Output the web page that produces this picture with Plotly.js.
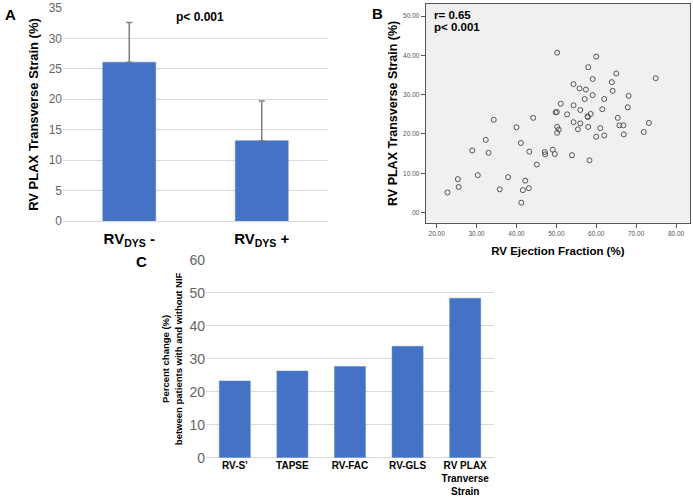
<!DOCTYPE html>
<html>
<head>
<meta charset="utf-8">
<script src="https://cdn.plot.ly/plotly-3.0.1.min.js"></script>
<style>html,body{margin:0;padding:0;background:#fff;}#chart{width:693px;height:497px;}</style>
</head>
<body>
<div id="chart"></div>
<script>
// Panel A data
const groupsA = ['RV<sub>DYS</sub> -', 'RV<sub>DYS</sub> +'];
const meanStrainA = [26.1, 13.2];
const sdStrainA = [6.5, 6.5];
const yTicksA = [0, 5, 10, 15, 20, 25, 30, 35];

// Panel B data (RV ejection fraction vs RV PLAX transverse strain)
const efB = [50.2, 60.0, 58.0, 65.0, 74.9, 59.1, 63.9, 54.3, 55.8, 57.4, 64.1, 68.1, 59.1, 57.1, 62.0, 51.1, 54.3, 67.9, 61.5, 56.0,
             50.1, 49.8, 52.7, 58.6, 57.8, 57.9, 44.2, 65.4, 34.3, 54.3, 56.0, 73.2, 65.8, 66.8, 40.0, 50.2, 58.0, 61.0, 55.4, 50.6,
             50.2, 71.9, 66.9, 62.0, 60.0, 32.3, 41.1, 49.1, 28.9, 43.2, 33.0, 47.1, 47.2, 49.6, 53.9, 58.3, 45.1, 30.3, 37.9, 25.3,
             42.2, 25.5, 43.1, 41.6, 35.8, 22.7, 41.2];
const strainB = [40.7, 39.7, 37.0, 35.4, 34.2, 34.0, 33.2, 32.7, 31.6, 31.3, 31.0, 29.7, 29.9, 28.9, 28.9, 27.7, 27.3, 26.8, 26.3, 26.1,
                 25.6, 25.5, 25.0, 25.1, 24.5, 24.3, 24.1, 24.1, 23.6, 23.0, 22.7, 22.8, 22.2, 22.2, 21.7, 21.8, 21.8, 21.5, 21.2, 21.1,
                 20.3, 20.5, 19.9, 19.6, 19.3, 18.5, 17.7, 16.0, 15.8, 15.5, 15.2, 15.4, 14.8, 14.9, 14.6, 13.3, 12.2, 9.5, 9.0, 8.5,
                 8.1, 6.5, 6.2, 5.7, 5.9, 5.1, 2.5];
const xTickValsB = [20, 30, 40, 50, 60, 70, 80];
const xTickTextB = ['20.00', '30.00', '40.00', '50.00', '60.00', '70.00', '80.00'];
const yTickValsB = [0, 10, 20, 30, 40, 50];
const yTickTextB = ['.00', '10.00', '20.00', '30.00', '40.00', '50.00'];

// Panel C data
const paramsC = ["RV-S'", 'TAPSE', 'RV-FAC', 'RV-GLS', 'RV PLAX<br>Tranverse<br>Strain'];
const pctChangeC = [23.3, 26.3, 27.7, 33.8, 48.4];
const yTicksC = [0, 10, 20, 30, 40, 50, 60];

const blue = '#4472C4';
const W = 693, H = 497;
const px = v => v / W;
const py = v => 1 - v / H;

const traces = [
  {
    type: 'bar', x: groupsA, y: meanStrainA, xaxis: 'x', yaxis: 'y', width: 0.4,
    marker: {color: blue, line: {color: '#5b86d0', width: 0.5}},
    error_y: {type: 'data', symmetric: false, array: sdStrainA, arrayminus: [0, 0], color: '#7f7f7f', thickness: 1.5, width: 3},
    hoverinfo: 'none'
  },
  {
    type: 'scatter', mode: 'markers', x: efB, y: strainB, xaxis: 'x2', yaxis: 'y2',
    marker: {symbol: 'circle-open', size: 5, color: '#555555', line: {width: 1}},
    hoverinfo: 'none'
  },
  {
    type: 'bar', x: paramsC, y: pctChangeC, xaxis: 'x3', yaxis: 'y3', width: 0.54,
    marker: {color: blue, line: {color: '#5b86d0', width: 0.5}},
    hoverinfo: 'none'
  }
];

const grid = '#d9d9d9';
const tickGray = '#646464';

const layout = {
  width: W, height: H,
  margin: {l: 0, r: 0, t: 0, b: 0},
  paper_bgcolor: '#ffffff',
  plot_bgcolor: 'rgba(0,0,0,0)',
  showlegend: false,
  font: {family: 'Liberation Sans, Arial, sans-serif', color: '#000'},
  // Panel A
  xaxis: {
    domain: [px(63), px(328)], anchor: 'y', type: 'category',
    showgrid: false, showline: false, ticks: '',
    tickfont: {size: 15, weight: 'bold', color: '#000'}, ticklabelstandoff: 7
  },
  yaxis: {
    domain: [py(221), py(8)], anchor: 'x', range: [0, 35],
    tickvals: yTicksA, showgrid: true, gridcolor: grid, gridwidth: 1,
    zeroline: true, zerolinecolor: grid, zerolinewidth: 1, showline: false, ticks: '',
    tickfont: {size: 12, color: tickGray},
    title: {text: 'RV PLAX Transverse Strain (%)', font: {size: 13, weight: 'bold'}, standoff: 7}
  },
  // Panel B
  xaxis2: {
    domain: [px(425.7), px(690)], anchor: 'y2', range: [17.24, 83.5],
    tickvals: xTickValsB, ticktext: xTickTextB, showgrid: false, zeroline: false,
    showline: true, mirror: true, linecolor: '#555', linewidth: 1,
    ticks: 'outside', ticklen: 4, tickcolor: '#555', tickfont: {size: 6.5, color: '#555'},
    title: {text: 'RV Ejection Fraction (%)', font: {size: 11.5, weight: 'bold'}, standoff: 11}
  },
  yaxis2: {
    domain: [py(222.7), py(4)], anchor: 'x2', range: [-2.6, 53.1],
    tickvals: yTickValsB, ticktext: yTickTextB, showgrid: false, zeroline: false,
    showline: true, mirror: true, linecolor: '#555', linewidth: 1,
    ticks: 'outside', ticklen: 4, tickcolor: '#555', tickfont: {size: 6.5, color: '#555'},
    title: {text: 'RV PLAX Transverse Strain (%)', font: {size: 12.5, weight: 'bold'}, standoff: 2}
  },
  // Panel C
  xaxis3: {
    domain: [px(206), px(494)], anchor: 'y3', type: 'category',
    showgrid: false, showline: false, ticks: '',
    tickfont: {size: 10, weight: 'bold', color: '#000'}
  },
  yaxis3: {
    domain: [py(457.7), py(260)], anchor: 'x3', range: [0, 60],
    tickvals: yTicksC, showgrid: true, gridcolor: grid, gridwidth: 1,
    zeroline: true, zerolinecolor: grid, showline: false, ticks: '',
    tickfont: {size: 14, color: tickGray},
    title: {text: 'Percent change (%)<br>between patients with and without NIF', font: {size: 9.5, weight: 'bold'}, standoff: 5}
  },
  shapes: [
    {type: 'rect', xref: 'x2 domain', yref: 'y2 domain', x0: 0, x1: 1, y0: 0, y1: 1,
     fillcolor: '#f0f0f0', line: {width: 0}, layer: 'below'}
  ],
  annotations: [
    {text: '<b>A</b>', xref: 'paper', yref: 'paper', x: px(10), y: py(15), showarrow: false, font: {size: 15}, xanchor: 'center', yanchor: 'middle'},
    {text: '<b>B</b>', xref: 'paper', yref: 'paper', x: px(377), y: py(14), showarrow: false, font: {size: 15}, xanchor: 'center', yanchor: 'middle'},
    {text: '<b>C</b>', xref: 'paper', yref: 'paper', x: px(141), y: py(261), showarrow: false, font: {size: 15}, xanchor: 'center', yanchor: 'middle'},
    {text: '<b>p< 0.001</b>', xref: 'paper', yref: 'paper', x: px(200), y: py(17), showarrow: false, font: {size: 12}, xanchor: 'center', yanchor: 'middle'},
    {text: '<b>r= 0.65</b>', xref: 'paper', yref: 'paper', x: px(432), y: py(15), showarrow: false, font: {size: 11.5}, xanchor: 'left', yanchor: 'middle'},
    {text: '<b>p< 0.001</b>', xref: 'paper', yref: 'paper', x: px(432), y: py(27.5), showarrow: false, font: {size: 11.5}, xanchor: 'left', yanchor: 'middle'}
  ]
};

Plotly.newPlot('chart', traces, layout, {staticPlot: true, displayModeBar: false});
</script>
</body>
</html>
